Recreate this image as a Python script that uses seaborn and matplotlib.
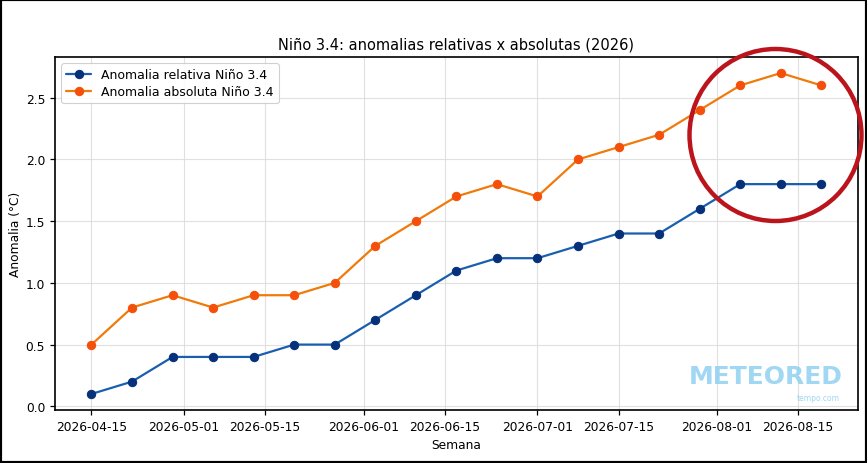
import matplotlib
matplotlib.use("Agg")
import matplotlib.pyplot as plt
import matplotlib.dates as mdates
from matplotlib.patches import Ellipse, Rectangle
import seaborn as sns
import pandas as pd

# ---- data ----
weeks = pd.date_range("2026-04-15", periods=19, freq="7D")
relativa = [0.1, 0.2, 0.4, 0.4, 0.4, 0.5, 0.5, 0.7, 0.9, 1.1, 1.2, 1.2, 1.3, 1.4, 1.4, 1.6, 1.8, 1.8, 1.8]
absoluta = [0.5, 0.8, 0.9, 0.8, 0.9, 0.9, 1.0, 1.3, 1.5, 1.7, 1.8, 1.7, 2.0, 2.1, 2.2, 2.4, 2.6, 2.7, 2.6]
label_rel = "Anomalia relativa Niño 3.4"
label_abs = "Anomalia absoluta Niño 3.4"
xtick_dates = ["2026-04-15", "2026-05-01", "2026-05-15", "2026-06-01", "2026-06-15",
               "2026-07-01", "2026-07-15", "2026-08-01", "2026-08-15"]
yticks = [0.0, 0.5, 1.0, 1.5, 2.0, 2.5]

df = pd.DataFrame({"Semana": weeks, "rel": relativa, "abs": absoluta})

sns.set_style("white")
plt.rcParams["font.family"] = ["DejaVu Sans"]
plt.rcParams["text.color"] = "black"
plt.rcParams["axes.labelcolor"] = "black"

fig = plt.figure(figsize=(8.67, 4.64), dpi=100)
ax = fig.add_axes([0.0634, 0.1142, 0.926, 0.7608])

sns.lineplot(data=df, x="Semana", y="rel", ax=ax, color="#1a5fae", lw=1.6,
             marker="o", markersize=6, markerfacecolor="#06307a",
             markeredgecolor="#06307a", label=label_rel)
sns.lineplot(data=df, x="Semana", y="abs", ax=ax, color="#f07a0a", lw=1.6,
             marker="o", markersize=6, markerfacecolor="#f5500a",
             markeredgecolor="#f5500a", label=label_abs)

ax.set_xticks(pd.to_datetime(xtick_dates))
ax.xaxis.set_major_formatter(mdates.DateFormatter("%Y-%m-%d"))
ax.set_yticks(yticks)
ax.set_yticklabels([f"{v:.1f}" for v in yticks])
ax.tick_params(axis="both", labelsize=8.8, length=3.5, width=0.9, colors="black",
               bottom=True, left=True)
ax.grid(True, color="#d9d9d9", lw=0.8, alpha=0.8)
for s in ax.spines.values():
    s.set_color("black")
    s.set_linewidth(1.2)

ax.set_title("Niño 3.4: anomalias relativas x absolutas (2026)", fontsize=10.5,
             pad=6, color="black")
ax.set_xlabel("Semana", fontsize=8.8, labelpad=4)
ax.set_ylabel("Anomalia (°C)", fontsize=8.8, labelpad=3)

leg = ax.legend(loc="upper left", fontsize=9, frameon=True, framealpha=0.9,
                edgecolor="#cccccc", borderpad=0.4, handlelength=2.0,
                labelspacing=0.3)
leg.get_frame().set_linewidth(0.8)

# watermark
fig.text(766 / 867, 1 - 377 / 464, "METEORED", fontsize=18, fontweight="bold",
         color="#8fd0f0", ha="center", va="center", alpha=0.85)
fig.text(840 / 867, 1 - 399 / 464, "tempo.com", fontsize=5.5, color="#8fd0f0",
         ha="right", va="center", alpha=0.85)

# red highlight circle
circ = Ellipse((775.5 / 867, 1 - 136 / 464), 172 / 867, 172 / 464,
               transform=fig.transFigure, fill=False, edgecolor="#bb141c",
               lw=3.2, zorder=10)
fig.patches.append(circ)

# outer frame
frame = Rectangle((0, 0), 1, 1, transform=fig.transFigure, fill=False,
                  edgecolor="black", lw=3, zorder=11)
fig.patches.append(frame)

fig.savefig("out.png", dpi=100)
